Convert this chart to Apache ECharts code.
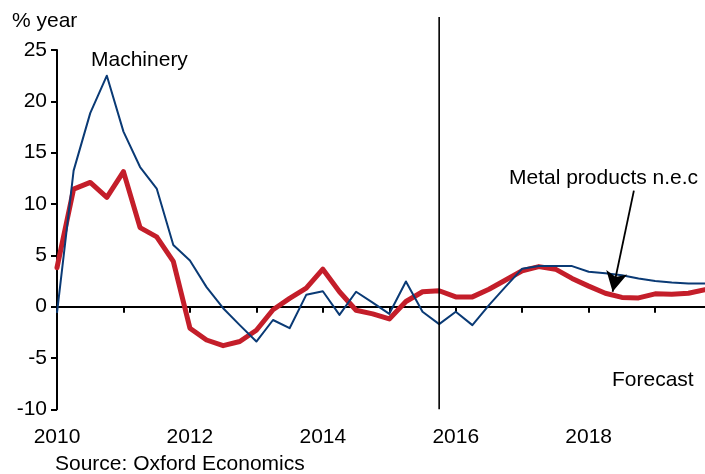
<!DOCTYPE html>
<html>
<head>
<meta charset="utf-8">
<script src="https://cdn.jsdelivr.net/npm/echarts@6/dist/echarts.min.js"></script>
<style>
  html, body { margin: 0; padding: 0; background: #fff; }
  #main { width: 705px; height: 474px; }
</style>
</head>
<body>
<div id="main"></div>
<script>
// quarterly periods, 2010 Q1 .. 2019 Q4
const quarters = [];
for (let i = 0; i < 40; i++) quarters.push(2010 + i * 0.25);

const machinery = [
    -0.6, 13.25, 18.85, 22.5, 17.05, 13.6, 11.5, 6.0,
    4.5, 1.9, -0.15, -1.8, -3.4, -1.3, -2.1, 1.15,
    1.5, -0.8, 1.45, 0.4, -0.7, 2.45, -0.5, -1.7,
    -0.5, -1.8, 0.15, 1.95, 3.7, 3.95, 3.95, 3.95,
    3.4, 3.25, 3.05, 2.75, 2.5, 2.35, 2.25, 2.25
];
const metalProducts = [
    3.8, 11.45, 12.1, 10.65, 13.15, 7.7, 6.8, 4.4,
    -2.1, -3.25, -3.8, -3.4, -2.3, -0.3, 0.8, 1.8,
    3.65, 1.45, -0.35, -0.7, -1.2, 0.5, 1.45, 1.55,
    0.95, 0.95, 1.7, 2.6, 3.5, 3.9, 3.65, 2.75,
    2.0, 1.3, 0.9, 0.85, 1.25, 1.2, 1.3, 1.65
];
const forecastStart = 2015.75;
const yTicks = { min: -10, max: 25, step: 5 };

(function() {
    var chart = echarts.init(document.getElementById('main'));
    var font = "'Liberation Sans', Arial, sans-serif";
    var fs = 21;

    function pairs(vals) {
        return quarters.map(function(q, i) { return [q, vals[i]]; });
    }

    var option = {
        animation: false,
        textStyle: { fontFamily: font },
        grid: { left: 57, top: 50, width: 650, height: 359.3, containLabel: false },
        xAxis: {
            type: 'value',
            min: 2010,
            max: 2019.75,
            interval: 1,
            splitLine: { show: false },
            axisLine: { lineStyle: { color: '#000', width: 2 } },
            axisTick: { inside: false, length: 6, lineStyle: { color: '#000', width: 2 } },
            axisLabel: {
                color: '#000', fontSize: fs, fontFamily: font, margin: 17,
                showMaxLabel: false,
                formatter: function(v) { return (v % 2 === 0) ? String(v) : ''; }
            }
        },
        yAxis: {
            type: 'value',
            min: yTicks.min,
            max: yTicks.max,
            interval: yTicks.step,
            splitLine: { show: false },
            axisLine: { lineStyle: { color: '#000', width: 2 } },
            axisTick: { inside: false, length: 6, lineStyle: { color: '#000', width: 2 } },
            axisLabel: { color: '#000', fontSize: fs, fontFamily: font, margin: 10 }
        },
        series: [
            {
                name: 'Metal products n.e.c',
                type: 'line',
                data: pairs(metalProducts),
                showSymbol: false,
                symbol: 'none',
                lineStyle: { color: '#C41E2A', width: 5, cap: 'round', join: 'round' },
                z: 2,
                markLine: {
                    silent: true,
                    animation: false,
                    label: { show: false },
                    data: [
                        [
                            { yAxis: 0, x: 57, symbol: 'none', lineStyle: { color: '#000', width: 2, type: 'solid' } },
                            { yAxis: 0, symbol: 'none' }
                        ],
                        [
                            { coord: [2018.68, 11.3], symbol: 'none', lineStyle: { color: '#000', width: 1.8, type: 'solid' } },
                            { coord: [2018.36, 1.45], symbol: 'arrow', symbolSize: [16, 20] }
                        ]
                    ]
                }
            },
            {
                name: 'Machinery',
                type: 'line',
                data: pairs(machinery),
                showSymbol: false,
                symbol: 'none',
                lineStyle: { color: '#0A3A75', width: 2, join: 'round' },
                z: 3
            }
        ]
    };
    chart.setOption(option);

    var bottom = chart.convertToPixel({ gridIndex: 0 }, [forecastStart, yTicks.min]);
    var ytop = chart.convertToPixel({ gridIndex: 0 }, [forecastStart, yTicks.max]);
    var ts = { fill: '#000', font: fs + 'px ' + font };
    chart.setOption({
        graphic: [
            {
                type: 'line', z: 10, silent: true,
                shape: { x1: bottom[0], y1: bottom[1], x2: bottom[0], y2: ytop[1] - 33 },
                style: { stroke: '#000', lineWidth: 1.6 }
            },
            { type: 'text', left: 12, top: 11, style: Object.assign({ text: '% year' }, ts) },
            { type: 'text', left: 91, top: 50, style: Object.assign({ text: 'Machinery' }, ts) },
            { type: 'text', left: 509, top: 168, style: Object.assign({ text: 'Metal products n.e.c' }, ts) },
            { type: 'text', left: 612, top: 370, style: Object.assign({ text: 'Forecast' }, ts) },
            { type: 'text', left: 55, top: 454, style: Object.assign({ text: 'Source: Oxford Economics' }, ts) }
        ]
    });
})();
</script>
</body>
</html>
